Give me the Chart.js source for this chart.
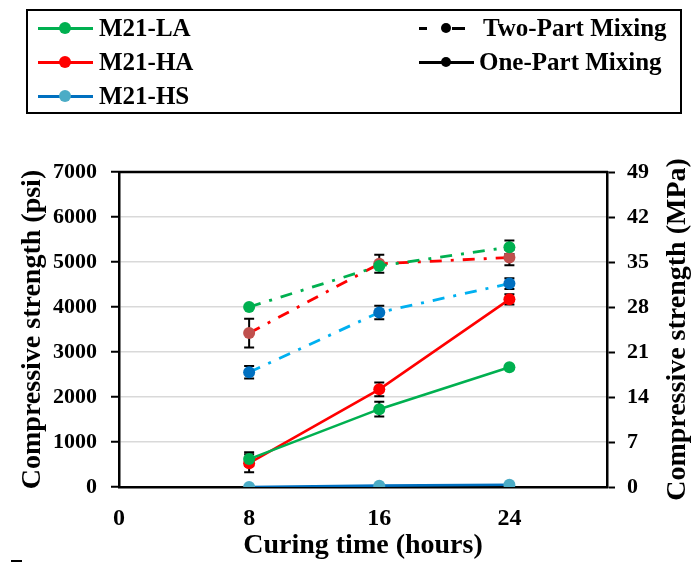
<!DOCTYPE html>
<html><head><meta charset="utf-8">
<script src="https://cdn.jsdelivr.net/npm/chart.js@4.4.0/dist/chart.umd.min.js"></script>
<style>
html,body{margin:0;padding:0;background:#fff;}
#wrap{position:relative;width:695px;height:563px;overflow:hidden;}
#c{position:absolute;left:0;top:0;}
#legend{position:absolute;left:26px;top:9px;width:652px;height:101px;border:2px solid #000;font-family:"Liberation Serif","Times New Roman",serif;font-weight:bold;font-size:25px;color:#000;}
.txt{position:absolute;height:30px;line-height:30px;white-space:nowrap;}
.ln{position:absolute;height:3px;}
.dot{position:absolute;width:12px;height:12px;border-radius:50%;}
#mark{position:absolute;left:11px;top:560px;width:11px;height:2px;background:#000;}
</style></head>
<body>
<div id="wrap">
<canvas id="c" width="695" height="563"></canvas>
<div id="legend"></div>
<div id="mark"></div>
</div>
<script>
// ---- data ----
const hours = [8, 16, 24];
const xTicks = [0, 8, 16, 24];
const seriesNames = ['M21-LA', 'M21-HA', 'M21-HS'];
const mixNames = ['Two-Part Mixing', 'One-Part Mixing'];
const yTitle = 'Compressive strength (psi)';
const y2Title = 'Compressive strength (MPa)';
const xTitle = 'Curing time (hours)';
// Two-part mixing (psi)
const la2 = [4000, 4910, 5330];
const ha2 = [3420, 4960, 5100];
const hs2 = [2550, 3880, 4520];
// One-part mixing (psi)
const la1 = [620, 1730, 2660];
const ha1 = [530, 2170, 4170];
const hs1 = [0, 30, 50];
// error bars (± psi)
const la2Err = [0, 0, 150];
const ha2Err = [320, 200, 170];
const hs2Err = [140, 150, 120];
const la1Err = [150, 165, 0];
const ha1Err = [200, 155, 115];
const hs1Err = [0, 0, 0];

// ---- styles ----
const GREEN = '#00B050', RED = '#FF0000', BROWN = '#C0504D';
const BLUE = '#0070C0', SKY = '#00B0F0', TEAL = '#4BACC6';
const DASHDOT = [12, 9, 3, 9];
const FONT = '"Liberation Serif","Times New Roman",serif';

function pts(vals){ return hours.map((h,i)=>({x:h, y:vals[i]})); }
function ds(label, vals, err, line, marker, dash){
  return {label, data: pts(vals), err, borderColor: line, backgroundColor: marker,
    pointBackgroundColor: marker, pointBorderColor: marker, pointRadius: 6, pointBorderWidth: 0,
    borderWidth: dash ? 2.8 : 2.6, borderDash: dash || [], fill: false, tension: 0, yAxisID: 'y'};
}
const datasets = [
  ds('M21-LA two-part', la2, la2Err, GREEN, GREEN, DASHDOT),
  ds('M21-HA two-part', ha2, ha2Err, RED, BROWN, DASHDOT),
  ds('M21-HS two-part', hs2, hs2Err, SKY, BLUE, DASHDOT),
  ds('M21-LA one-part', la1, la1Err, GREEN, GREEN, null),
  ds('M21-HA one-part', ha1, ha1Err, RED, RED, null),
  ds('M21-HS one-part', hs1, hs1Err, BLUE, TEAL, null)
];

const errorBars = {
  id: 'errorBars',
  beforeDatasetsDraw(chart){
    const ctx = chart.ctx, xs = chart.scales.x, ys = chart.scales.y;
    ctx.save(); ctx.strokeStyle = '#000'; ctx.lineWidth = 2;
    chart.data.datasets.forEach(d=>{
      d.data.forEach((p,i)=>{
        const e = d.err[i]; if(!e) return;
        const x = xs.getPixelForValue(p.x);
        const y1 = ys.getPixelForValue(p.y + e), y2 = ys.getPixelForValue(p.y - e);
        ctx.beginPath();
        ctx.moveTo(x, y1); ctx.lineTo(x, y2);
        ctx.moveTo(x-5, y1); ctx.lineTo(x+5, y1);
        ctx.moveTo(x-5, y2); ctx.lineTo(x+5, y2);
        ctx.stroke();
      });
    });
    ctx.restore();
  }
};
const frame = {
  id: 'frame',
  afterDraw(chart){
    const a = chart.chartArea, ctx = chart.ctx;
    ctx.save(); ctx.strokeStyle = '#000'; ctx.lineWidth = 2.5;
    ctx.beginPath(); ctx.moveTo(a.left-1, a.top); ctx.lineTo(a.right+1, a.top); ctx.stroke();
    // right axis title, reading bottom-to-top like the left one
    ctx.fillStyle = '#000';
    ctx.font = 'bold 28px ' + FONT;
    ctx.textAlign = 'center'; ctx.textBaseline = 'middle';
    ctx.translate(678, (a.top + a.bottom) / 2);
    ctx.rotate(-Math.PI / 2);
    ctx.fillText(y2Title, 0, 0);
    ctx.restore();
  }
};
const plain = v => String(v);

new Chart(document.getElementById('c'), {
  type: 'line',
  data: { datasets },
  options: {
    responsive: false, animation: false, devicePixelRatio: 1,
    layout: { padding: { top: 172, left: 0, right: 0, bottom: 0 } },
    plugins: { legend: { display: false }, tooltip: { enabled: false } },
    scales: {
      x: {
        type: 'linear', position: 'bottom', min: 0, max: 30,
        afterBuildTicks(s){ s.ticks = xTicks.map(v=>({value:v})); },
        afterFit(s){ s.height = 76; },
        grid: { display: false, drawTicks: false },
        border: { display: true, color: '#000', width: 2.5 },
        ticks: { color: '#000', padding: 17, callback: plain, font: { family: FONT, size: 24, weight: 'bold' } },
        title: { display: true, text: xTitle, color: '#000', padding: { top: 0, bottom: 0 },
          font: { family: FONT, size: 28, weight: 'bold' } }
      },
      y: {
        position: 'left', min: 0, max: 7000,
        afterFit(s){ s.width = 119; },
        grid: { color: '#d9d9d9', lineWidth: 1.5, tickColor: '#000', tickWidth: 2, tickLength: 8 },
        border: { display: true, color: '#000', width: 2.5 },
        ticks: { stepSize: 1000, color: '#000', padding: 14, callback: plain, font: { family: FONT, size: 22, weight: 'bold' } },
        title: { display: true, text: yTitle, color: '#000', padding: { top: 16, bottom: 0 },
          font: { family: FONT, size: 28, weight: 'bold' } }
      },
      y2: {
        position: 'right', min: 0, max: 49,
        afterFit(s){ s.width = 88; },
        grid: { drawOnChartArea: false, color: '#000', tickColor: '#000', tickWidth: 2, tickLength: 8 },
        border: { display: true, color: '#000', width: 2.5 },
        ticks: { stepSize: 7, color: '#000', padding: 12, callback: plain, font: { family: FONT, size: 22, weight: 'bold' } },
        title: { display: false }
      }
    }
  },
  plugins: [errorBars, frame]
});

// ---- HTML legend ----
const lg = document.getElementById('legend');
function add(cls, style, text){
  const d = document.createElement('div'); d.className = cls;
  Object.assign(d.style, style); if(text) d.textContent = text; lg.appendChild(d); return d;
}
const rowY = [17, 51, 85];
const legLine = [GREEN, RED, BLUE], legDot = [GREEN, RED, TEAL];
seriesNames.forEach((n,i)=>{
  add('ln', {left:'10px', width:'55px', top:(rowY[i]-1.5)+'px', background:legLine[i]});
  add('dot', {left:'31px', top:(rowY[i]-6)+'px', background:legDot[i]});
  add('txt', {left:'71px', top:(rowY[i]-15)+'px'}, n);
});
// Two-part (dash-dot sample)
add('ln', {left:'391px', width:'8px', top:(rowY[0]-1.5)+'px', background:'#000'});
add('dot', {left:'413px', top:(rowY[0]-5)+'px', width:'10px', height:'10px', background:'#000'});
add('ln', {left:'424px', width:'13px', top:(rowY[0]-1.5)+'px', background:'#000'});
add('txt', {left:'455px', top:(rowY[0]-15)+'px'}, mixNames[0]);
// One-part (solid sample)
add('ln', {left:'391px', width:'55px', top:(rowY[1]-1.5)+'px', background:'#000'});
add('dot', {left:'413px', top:(rowY[1]-5)+'px', width:'10px', height:'10px', background:'#000'});
add('txt', {left:'451px', top:(rowY[1]-15)+'px'}, mixNames[1]);
</script>
</body></html>
